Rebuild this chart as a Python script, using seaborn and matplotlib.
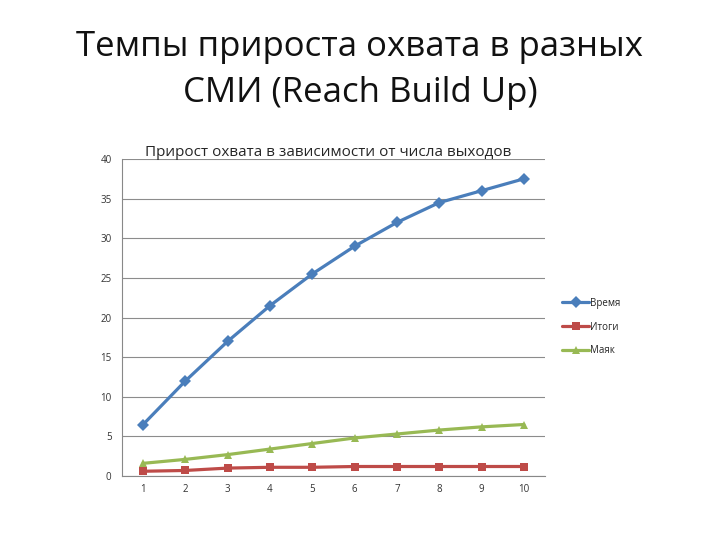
import pandas as pd
import numpy as np
from matplotlib import pyplot as plt
import seaborn as sns

# число выходов
vykhody = [1, 2, 3, 4, 5, 6, 7, 8, 9, 10]
# охват по СМИ
vremya = [6.5, 12.0, 17.0, 21.5, 25.5, 29.0, 32.0, 34.5, 36.0, 37.5]
itogi = [0.6, 0.7, 1.0, 1.1, 1.1, 1.2, 1.2, 1.2, 1.2, 1.2]
mayak = [1.6, 2.1, 2.7, 3.4, 4.1, 4.8, 5.3, 5.8, 6.2, 6.5]
series_names = ['Время', 'Итоги', 'Маяк']

df = pd.DataFrame({
    'x': vykhody * 3,
    'y': vremya + itogi + mayak,
    'smi': [series_names[0]] * 10 + [series_names[1]] * 10 + [series_names[2]] * 10,
})

sns.set_style('white')
plt.rcParams['font.family'] = ['Open Sans', 'DejaVu Sans']

fig = plt.figure(figsize=(7.2, 5.4), dpi=100)
ax = fig.add_axes([0.1694, 0.1185, 0.5875, 0.587])

colors = {'Время': '#4A7EBB', 'Итоги': '#BE4B48', 'Маяк': '#98B954'}
markers = {'Время': 'D', 'Итоги': 's', 'Маяк': '^'}

sns.lineplot(data=df, x='x', y='y', hue='smi', style='smi', palette=colors,
             markers=markers, dashes=False, linewidth=2.3, markersize=6,
             markeredgewidth=0, ax=ax)

ax.set_xlim(0.5, 10.5)
ax.set_ylim(0, 40)
ax.set_yticks(range(0, 41, 5))
ax.set_xticks(vykhody)
ax.set_xticks(np.arange(0.5, 11, 1), minor=True)
ax.tick_params(axis='x', which='major', length=0, labelsize=7, pad=6, colors='#333333')
ax.tick_params(axis='x', which='minor', length=4, color='#888888', direction='out')
ax.tick_params(axis='y', length=4, labelsize=7, color='#888888', colors='#333333', direction='out')
ax.yaxis.grid(True, color='#8c8c8c', linewidth=0.8)
ax.set_axisbelow(True)
for s in ['top', 'right']:
    ax.spines[s].set_visible(False)
for s in ['left', 'bottom']:
    ax.spines[s].set_color('#888888')
    ax.spines[s].set_linewidth(0.8)
ax.set_xlabel('')
ax.set_ylabel('')

ax.set_title('Прирост охвата в зависимости от числа выходов', fontsize=11, pad=2, x=0.487)

leg = ax.legend(loc='center left', bbox_to_anchor=(1.02, 0.47), frameon=False,
                fontsize=7, handlelength=2.8, labelspacing=1.3, handletextpad=0.1)

fig.text(0.5, 0.87, 'Темпы прироста охвата в разных\nСМИ (Reach Build Up)',
         ha='center', va='center', fontsize=25, linespacing=1.45, color='#111111')

plt.savefig('out.png', dpi=100)
